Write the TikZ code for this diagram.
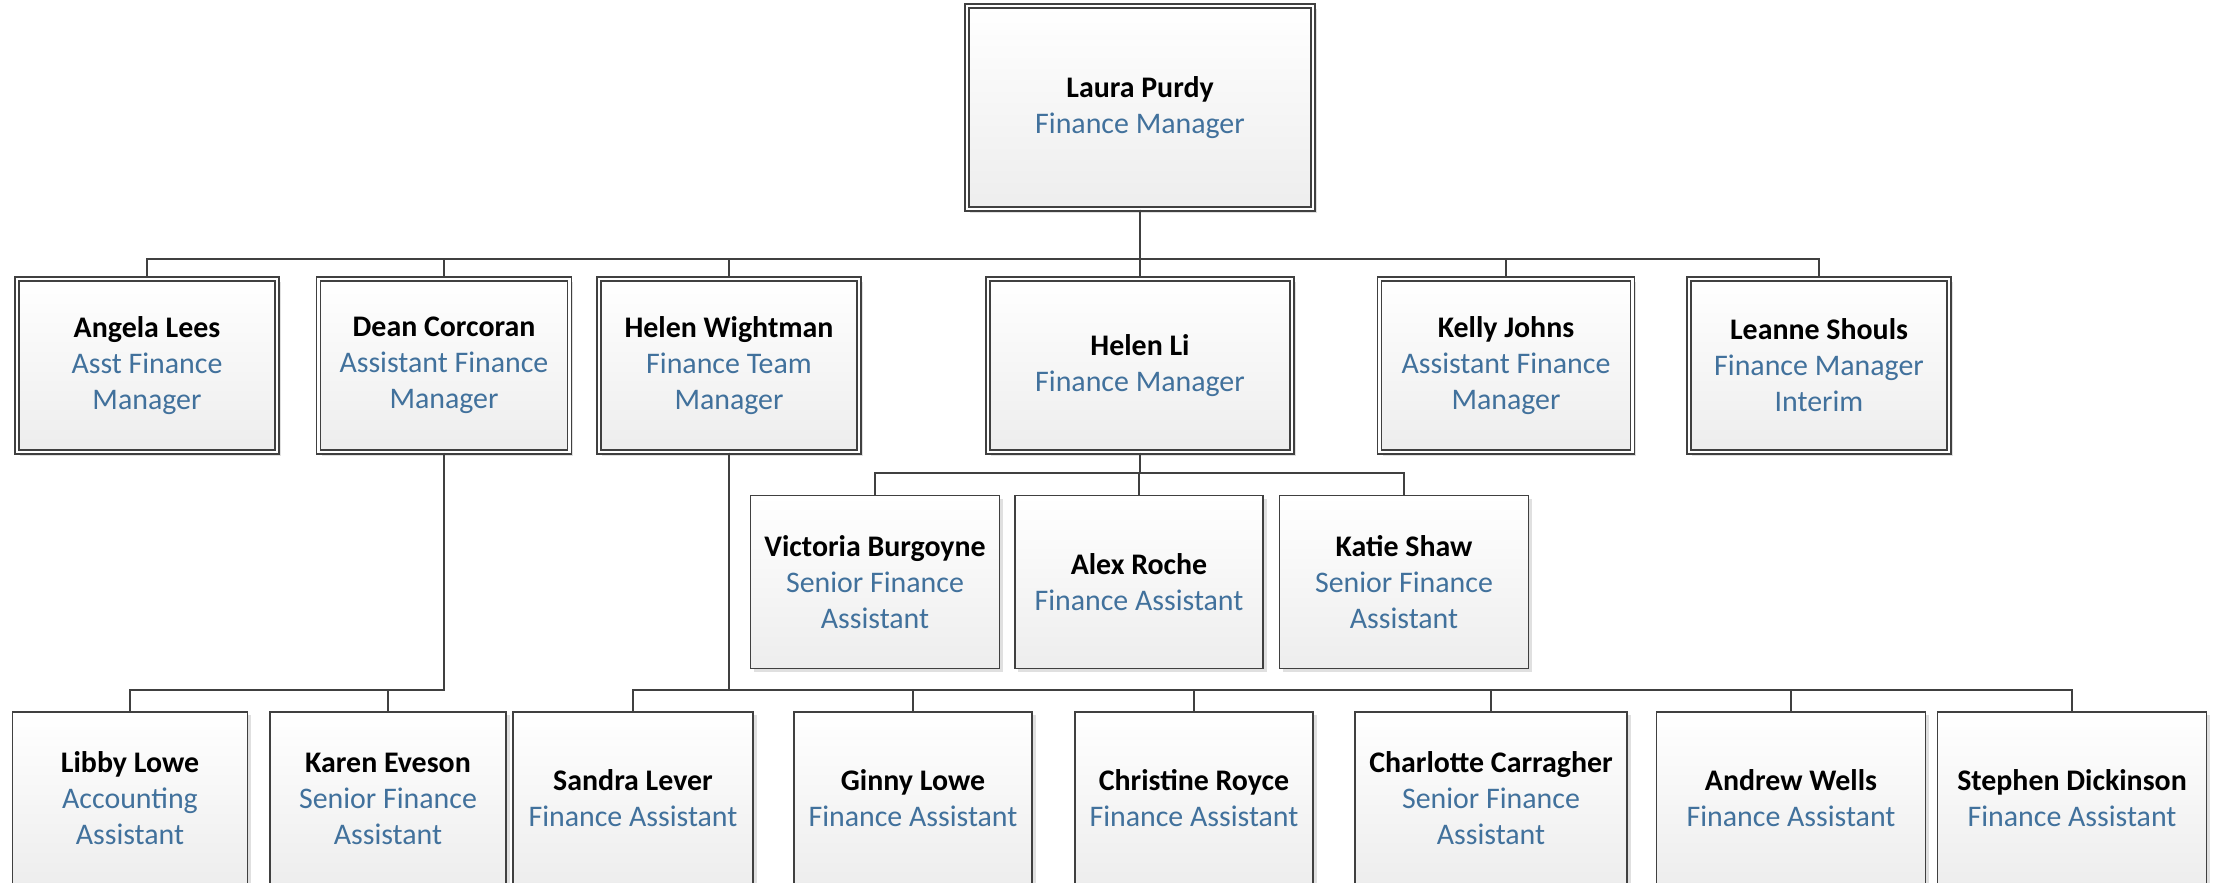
\documentclass[tikz,border=0pt]{standalone}
\usepackage{fontspec}
\setmainfont{Carlito}
\usetikzlibrary{shadows}
\definecolor{roleblue}{HTML}{41719C}
\definecolor{linegray}{HTML}{404040}

\begin{document}
\begin{tikzpicture}[x=0.01cm, y=-0.01cm,
		font=\fontsize{8.5}{10.25}\selectfont,
		person/.style={rectangle, draw=linegray, line width=0.45pt, top color=white, bottom color=black!7,
			minimum height=1.73cm, inner sep=0pt, align=center,
			drop shadow={shadow xshift=1pt, shadow yshift=-1pt, fill=black!12, opacity=1}},
		lead/.style={person, double=white, double distance=0.7pt},
		link/.style={draw=linegray, line width=0.7pt}]
	\useasboundingbox (0,0) rectangle (2216,883);

	% Nodes
	\node[lead, minimum width=3.46cm, minimum height=2.03cm] (laura) at (1140,107.5) {\textbf{Laura Purdy}\\\textcolor{roleblue}{Finance Manager}};

	\node[lead, minimum width=2.60cm] (angela) at (147,365.5) {\textbf{Angela Lees}\\\textcolor{roleblue}{Asst Finance}\\\textcolor{roleblue}{Manager}};
	\node[lead, minimum width=2.51cm] (dean) at (444,365.5) {\textbf{Dean Corcoran}\\\textcolor{roleblue}{Assistant Finance}\\\textcolor{roleblue}{Manager}};
	\node[lead, minimum width=2.60cm] (helenw) at (729,365.5) {\textbf{Helen Wightman}\\\textcolor{roleblue}{Finance Team}\\\textcolor{roleblue}{Manager}};
	\node[lead, minimum width=3.04cm] (helenli) at (1140,365.5) {\textbf{Helen Li}\\\textcolor{roleblue}{Finance Manager}};
	\node[lead, minimum width=2.53cm] (kelly) at (1506,365.5) {\textbf{Kelly Johns}\\\textcolor{roleblue}{Assistant Finance}\\\textcolor{roleblue}{Manager}};
	\node[lead, minimum width=2.60cm] (leanne) at (1819,365.5) {\textbf{Leanne Shouls}\\\textcolor{roleblue}{Finance Manager}\\\textcolor{roleblue}{Interim}};

	\node[person, minimum width=2.49cm] (victoria) at (875,582) {\textbf{Victoria Burgoyne}\\\textcolor{roleblue}{Senior Finance}\\\textcolor{roleblue}{Assistant}};
	\node[person, minimum width=2.48cm] (alex) at (1139,582) {\textbf{Alex Roche}\\\textcolor{roleblue}{Finance Assistant}};
	\node[person, minimum width=2.49cm] (katie) at (1404,582) {\textbf{Katie Shaw}\\\textcolor{roleblue}{Senior Finance}\\\textcolor{roleblue}{Assistant}};

	\node[person, minimum width=2.35cm] (libby) at (130,798.5) {\textbf{Libby Lowe}\\\textcolor{roleblue}{Accounting}\\\textcolor{roleblue}{Assistant}};
	\node[person, minimum width=2.36cm] (karen) at (388,798.5) {\textbf{Karen Eveson}\\\textcolor{roleblue}{Senior Finance}\\\textcolor{roleblue}{Assistant}};
	\node[person, minimum width=2.40cm] (sandra) at (633,798.5) {\textbf{Sandra Lever}\\\textcolor{roleblue}{Finance Assistant}};
	\node[person, minimum width=2.38cm] (ginny) at (913,798.5) {\textbf{Ginny Lowe}\\\textcolor{roleblue}{Finance Assistant}};
	\node[person, minimum width=2.38cm] (christine) at (1194,798.5) {\textbf{Christine Royce}\\\textcolor{roleblue}{Finance Assistant}};
	\node[person, minimum width=2.72cm] (charlotte) at (1491,798.5) {\textbf{Charlotte Carragher}\\\textcolor{roleblue}{Senior Finance}\\\textcolor{roleblue}{Assistant}};
	\node[person, minimum width=2.69cm] (andrew) at (1791,798.5) {\textbf{Andrew Wells}\\\textcolor{roleblue}{Finance Assistant}};
	\node[person, minimum width=2.69cm] (stephen) at (2072,798.5) {\textbf{Stephen Dickinson}\\\textcolor{roleblue}{Finance Assistant}};

	% Connectors
	\coordinate (busA) at (1140,259);
	\coordinate (busB) at (1140,473);
	\coordinate (busC) at (444,690);
	\coordinate (busD) at (729,690);

	\foreach \n in {angela,dean,helenw,helenli,kelly,leanne}
		\draw[link] (laura.south) |- (busA -| \n.north) -- (\n.north);
	\foreach \n in {victoria,alex,katie}
		\draw[link] (helenli.south) |- (busB -| \n.north) -- (\n.north);
	\foreach \n in {libby,karen}
		\draw[link] (dean.south) |- (busC -| \n.north) -- (\n.north);
	\foreach \n in {sandra,ginny,christine,charlotte,andrew,stephen}
		\draw[link] (helenw.south) |- (busD -| \n.north) -- (\n.north);
\end{tikzpicture}
\end{document}
